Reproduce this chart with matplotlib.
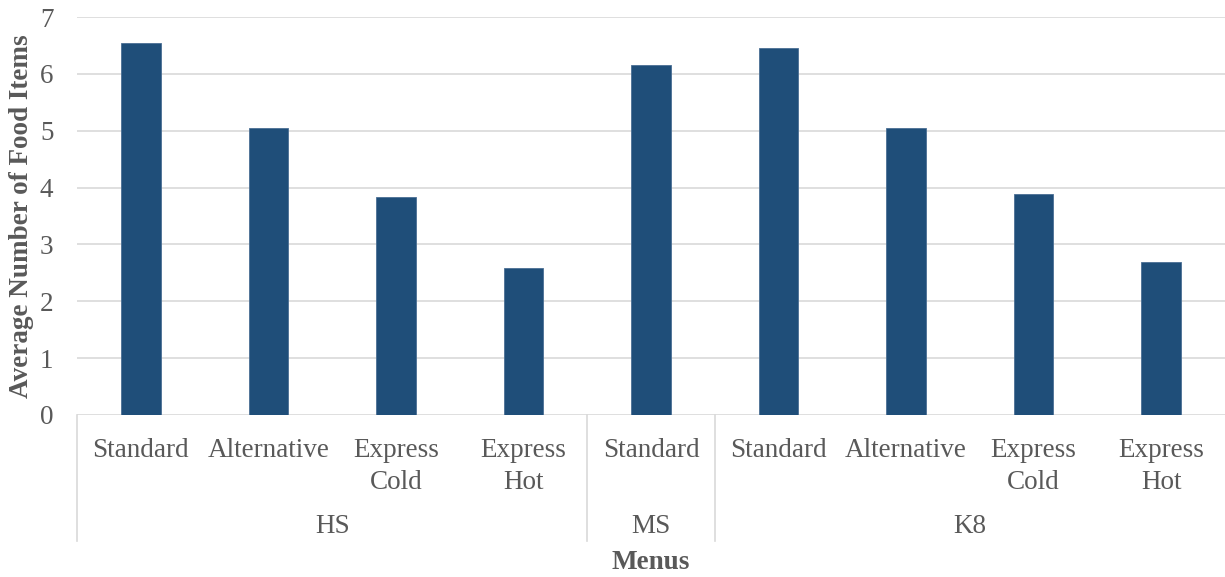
import matplotlib
matplotlib.use('Agg')
import matplotlib.pyplot as plt
import matplotlib.transforms as mtransforms

plt.rcParams['font.family'] = ['Liberation Serif', 'DejaVu Serif']

# menu types per school level
menus = ['Standard', 'Alternative', 'Express\nCold', 'Express\nHot',
         'Standard',
         'Standard', 'Alternative', 'Express\nCold', 'Express\nHot']
groups = ['HS', 'MS', 'K8']
group_sizes = [4, 1, 4]
avg_items = [6.54, 5.05, 3.83, 2.58, 6.15, 6.45, 5.05, 3.89, 2.69]

bar_color = '#1F4E79'
text_color = '#595959'
grid_color = '#D9D9D9'
fs = 19.5

fig = plt.figure(figsize=(12.25, 5.77), dpi=100)
ax = fig.add_axes([0.0629, 0.2808, 0.9371, 0.6897])

x = list(range(len(menus)))
ax.bar(x, avg_items, width=0.31, color=bar_color, edgecolor='#4A6F94',
       linewidth=0.6, zorder=3)

ax.set_xlim(-0.5, len(menus) - 0.5)
ax.set_ylim(0, 7)
ax.set_yticks(range(0, 8))
ax.yaxis.grid(True, color=grid_color, linewidth=1.2, zorder=0)
ax.set_axisbelow(True)
for sp in ax.spines.values():
    sp.set_visible(False)
ax.tick_params(axis='y', length=0, pad=17, labelsize=fs, labelcolor=text_color)
ax.set_xticks([])

trans = mtransforms.blended_transform_factory(ax.transData, ax.transAxes)

# inner labels (menu type)
for xi, lab in zip(x, menus):
    ax.text(xi, -0.058, lab, transform=trans, ha='center', va='top',
            fontsize=fs, color=text_color, linespacing=1.35)

# outer labels (school level) and separators between groups
start = 0
seps = [-0.5]
for g, n in zip(groups, group_sizes):
    center = start + (n - 1) / 2
    ax.text(center, -0.281, g, transform=trans, ha='center', va='center',
            fontsize=fs, color=text_color)
    start += n
    seps.append(start - 0.5)

for s in seps[:-1]:
    ax.plot([s, s], [0, -0.317], transform=trans, color=grid_color,
            linewidth=1.2, clip_on=False)

ax.text(0.5, -0.37, 'Menus', transform=ax.transAxes, ha='center', va='center',
        fontsize=fs, fontweight='bold', color=text_color)
fig.text(22 / 1225, 0.5 * (0.2808 + 0.9705), 'Average Number of Food Items',
         rotation=90, ha='center', va='center', fontsize=fs,
         fontweight='bold', color=text_color)

fig.savefig('out.png', dpi=100)
